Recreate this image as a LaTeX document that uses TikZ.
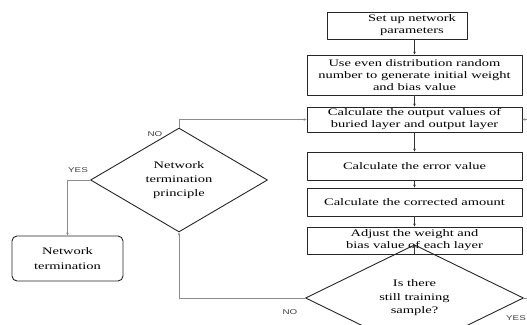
\documentclass[tikz,border=0pt]{standalone}
\usepackage{fontspec}
\setmainfont{Liberation Serif}[FakeStretch=1.45]
\newfontfamily\lblfont{Liberation Sans}[FakeStretch=1.4]
\usetikzlibrary{shapes.geometric,arrows.meta}

\begin{document}
\begin{tikzpicture}[x=1pt, y=-1pt, line join=round, >={Stealth[length=3pt,width=2.6pt]},
	font=\fontsize{10}{12}\selectfont,
	box/.style={draw=black!85, line width=0.9pt, inner sep=0pt, align=center, minimum width=215pt},
	endbox/.style={box, rounded corners=5pt, minimum width=111pt, minimum height=45pt},
	test/.style={draw=black!85, line width=0.9pt, diamond, inner sep=0pt, align=center},
	flow/.style={->, line width=0.6pt, black!80},
	back/.style={->, line width=0.6pt, black!45},
	lbl/.style={font=\lblfont\fontsize{7}{8}\selectfont, text=black!75}]
	\useasboundingbox (0,0) rectangle (527,324);
	\node[box, minimum width=140pt, minimum height=27pt] (setup) at (397,25.5) {};
	\node[align=center, inner sep=0pt] (setuptxt) at (412,25.5) {Set up network\\parameters};
	\node[box, minimum height=40pt] (init) at (414.5,75) {Use even distribution random\\number to generate initial weight\\and bias value};
	\node[box, minimum height=25pt] (output) at (414.5,119.5) {Calculate the output values of\\buried layer and output layer};
	\node[box, minimum height=28pt] (error) at (414.5,166) {Calculate the error value};
	\node[box, minimum height=28pt] (corr) at (414.5,202) {Calculate the corrected amount};
	\node[box, minimum height=27pt] (adjust) at (414.5,240.5) {Adjust the weight and\\bias value of each layer};
	\node[test, minimum width=218pt, minimum height=56pt, font=\fontsize{10}{13.5}\selectfont] (sample) at (414.5,298) {Is there\\still training\\sample?};
	\node[test, minimum width=177pt, minimum height=74pt, font=\fontsize{10}{14}\selectfont] (rule) at (179,180) {Network\\termination\\principle};
	\node[endbox, font=\fontsize{10}{14.5}\selectfont] (stop) at (67.5,258.5) {Network\\termination};

	\draw[flow] (setup.south -| init.north) -- (init.north);
	\draw[flow] (init) -- (output);
	\draw[flow] (output) -- (error);
	\draw[flow] (error) -- (corr);
	\draw[flow] (corr) -- (adjust);
	\draw[flow] (adjust) -- (sample);
	\draw[back] (sample.west) -| (rule.south);
	\draw[back] (rule.north) |- (output.west);
	\draw[back] (rule.west) -| (stop.north);
	\draw[back] (sample.east) -- ++(14,0) |- (output.east);

	\node[lbl] (no1) at (290,312) {NO};
	\node[lbl] (no2) at (155,134) {NO};
	\node[lbl] (yes1) at (78,170) {YES};
	\node[lbl, anchor=east, inner sep=1pt] (yes2) at (527,318) {YES};
\end{tikzpicture}
\end{document}
